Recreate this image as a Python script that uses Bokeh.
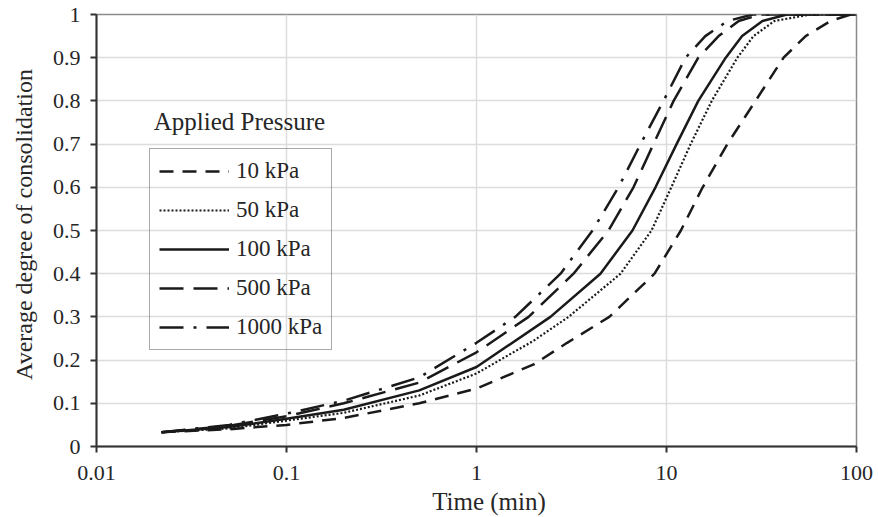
from bokeh.plotting import figure
from bokeh.models import FixedTicker, NumeralTickFormatter, Legend, LegendItem, Label
from bokeh.embed import file_html
from bokeh.resources import INLINE

# ---- data (time in min, average degree of consolidation) ----
t_10 = [0.022, 0.05, 0.1, 0.2, 0.5, 1, 2, 3, 5.0, 8.65, 11.9, 15.5, 20.9, 29.4, 41.3, 54, 73, 93, 100]
u_10 = [0.033, 0.040, 0.050, 0.066, 0.100, 0.134, 0.19, 0.24, 0.30, 0.40, 0.50, 0.60, 0.70, 0.80, 0.90, 0.95, 0.985, 1.0, 1.0]

t_50 = [0.022, 0.05, 0.1, 0.2, 0.5, 1, 2, 3.05, 5.73, 8.34, 10.6, 13.4, 17.3, 23.6, 28.7, 37, 57, 100]
u_50 = [0.033, 0.042, 0.060, 0.078, 0.118, 0.169, 0.245, 0.30, 0.40, 0.50, 0.60, 0.70, 0.80, 0.90, 0.95, 0.985, 1.0, 1.0]

t_100 = [0.022, 0.05, 0.1, 0.2, 0.5, 1, 2.45, 4.49, 6.62, 8.75, 11.3, 14.7, 20.5, 25, 32, 43, 100]
u_100 = [0.033, 0.045, 0.064, 0.085, 0.130, 0.184, 0.30, 0.40, 0.50, 0.60, 0.70, 0.80, 0.90, 0.95, 0.985, 1.0, 1.0]

t_500 = [0.022, 0.05, 0.1, 0.2, 0.5, 1, 1.88, 3.24, 4.95, 6.7, 8.54, 10.9, 14.7, 18.8, 24, 31.3, 100]
u_500 = [0.033, 0.048, 0.070, 0.100, 0.148, 0.218, 0.30, 0.40, 0.50, 0.60, 0.70, 0.80, 0.90, 0.95, 0.985, 1.0, 1.0]

t_1000 = [0.022, 0.05, 0.1, 0.2, 0.5, 1, 1.6, 2.77, 4.08, 5.59, 7.3, 9.64, 12.6, 16, 21, 28.4, 100]
u_1000 = [0.033, 0.050, 0.076, 0.106, 0.160, 0.240, 0.30, 0.40, 0.50, 0.60, 0.70, 0.80, 0.90, 0.95, 0.985, 1.0, 1.0]

labels = ["10 kPa", "50 kPa", "100 kPa", "500 kPa", "1000 kPa"]
x_ticks = [0.01, 0.1, 1, 10, 100]
y_ticks = [0, 0.1, 0.2, 0.3, 0.4, 0.5, 0.6, 0.7, 0.8, 0.9, 1.0]

FONT = "Liberation Serif"
TXT = "#262626"
LINE = "#1a1a1a"
NB = "\u00a0"

p = figure(width=878, height=517, x_axis_type="log", x_range=(0.01, 100), y_range=(0, 1),
           output_backend="svg", toolbar_location=None,
           min_border_left=96, min_border_right=22, min_border_top=14, min_border_bottom=71)

p.background_fill_color = "white"
p.border_fill_color = "white"
p.outline_line_color = "#8a8a8a"
p.outline_line_width = 1.5

# grid
p.xgrid.ticker = FixedTicker(ticks=x_ticks)
p.ygrid.ticker = FixedTicker(ticks=y_ticks)
for g in (p.xgrid, p.ygrid):
    g.grid_line_color = "#dcdcdc"
    g.grid_line_width = 1.5

# axes
p.xaxis.ticker = FixedTicker(ticks=x_ticks, minor_ticks=[])
p.xaxis.formatter = NumeralTickFormatter(format="0.[00]")
p.yaxis.ticker = FixedTicker(ticks=y_ticks, minor_ticks=[])
p.yaxis.formatter = NumeralTickFormatter(format="0.[0]")
p.xaxis.axis_label = NB * 4 + "Time (min)"
p.yaxis.axis_label = NB * 2 + "Average degree of consolidation"
for ax in (p.xaxis, p.yaxis):
    ax.axis_line_color = "#333333"
    ax.axis_line_width = 2
    ax.major_tick_line_color = "#333333"
    ax.major_tick_line_width = 2
    ax.major_tick_in = 0
    ax.major_tick_out = 6
    ax.minor_tick_in = 0
    ax.minor_tick_out = 0
    ax.major_label_text_font = FONT
    ax.major_label_text_font_size = "22px"
    ax.major_label_text_color = TXT
    ax.axis_label_text_font = FONT
    ax.axis_label_text_font_style = "normal"
    ax.axis_label_text_color = TXT
p.xaxis.axis_label_text_font_size = "25px"
p.yaxis.axis_label_text_font_size = "24px"
p.xaxis.major_label_standoff = 13
p.xaxis.axis_label_standoff = 5
p.yaxis.major_label_standoff = 10
p.yaxis.axis_label_standoff = 13

# curves
r10 = p.line(t_10, u_10, line_color=LINE, line_width=2.5, line_dash="14 9")
r50 = p.line(t_50, u_50, line_color=LINE, line_width=2.2, line_dash="2 2")
r100 = p.line(t_100, u_100, line_color=LINE, line_width=2.5)
r500 = p.line(t_500, u_500, line_color=LINE, line_width=2.5, line_dash="24 10")
r1000 = p.line(t_1000, u_1000, line_color=LINE, line_width=2.5, line_dash="24 10 3 10")

legend = Legend(items=[LegendItem(label=l, renderers=[r]) for l, r in
                       zip(labels, [r10, r50, r100, r500, r1000])],
                location=(53, 96))
legend.border_line_color = "#555555"
legend.border_line_width = 1.5
legend.background_fill_alpha = 0
legend.label_text_font = FONT
legend.label_text_font_size = "23px"
legend.label_text_color = TXT
legend.glyph_width = 70
legend.glyph_height = 26
legend.label_height = 26
legend.spacing = 13
legend.padding = 9
legend.margin = 0
legend.label_standoff = 7
p.add_layout(legend)

title = Label(x=0.0200, y=0.752, text="Applied Pressure", text_font=FONT,
              text_font_size="25px", text_color=TXT, text_baseline="middle")
p.add_layout(title)

open("out.html", "w").write(file_html(p, INLINE))
